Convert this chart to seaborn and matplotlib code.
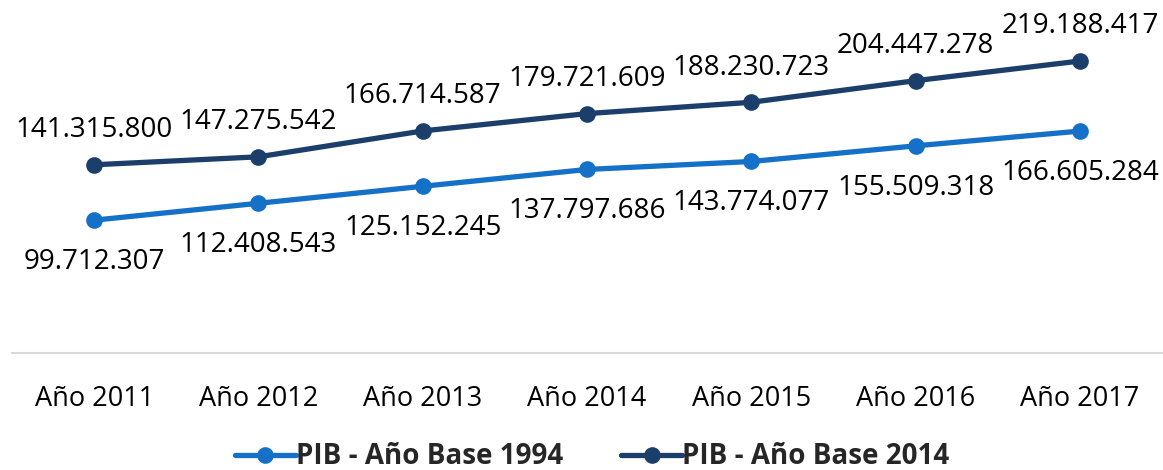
import matplotlib
matplotlib.use("Agg")
import matplotlib.pyplot as plt
import seaborn as sns
import pandas as pd

years = ["Año 2011", "Año 2012", "Año 2013", "Año 2014", "Año 2015", "Año 2016", "Año 2017"]
pib_1994 = [99712307, 112408543, 125152245, 137797686, 143774077, 155509318, 166605284]
pib_2014 = [141315800, 147275542, 166714587, 179721609, 188230723, 204447278, 219188417]
series_names = ["PIB - Año Base 1994", "PIB - Año Base 2014"]
colors = ["#1570C8", "#1B3F6A"]

sns.set_theme(style="white")
plt.rcParams["font.family"] = ["Open Sans", "DejaVu Sans"]

df = pd.DataFrame({
    "year": years * 2,
    "value": pib_1994 + pib_2014,
    "serie": [series_names[0]] * len(years) + [series_names[1]] * len(years),
})

fig = plt.figure(figsize=(11.63, 4.70), dpi=100)
ax = fig.add_axes([12 / 1163, 117 / 470, 1150 / 1163, 333 / 470])

sns.lineplot(data=df, x="year", y="value", hue="serie", palette=colors,
             marker="o", markersize=12, markeredgewidth=0, linewidth=3.8,
             sort=False, ax=ax, legend=False)

def fmt(v):
    return f"{v:,}".replace(",", ".")

for i, v in enumerate(pib_1994):
    ax.annotate(fmt(v), (i, v), xytext=(0, -30), textcoords="offset points",
                ha="center", va="center", fontsize=20, color="#000000")
for i, v in enumerate(pib_2014):
    ax.annotate(fmt(v), (i, v), xytext=(0, 25), textcoords="offset points",
                ha="center", va="center", fontsize=20, color="#000000")

ax.set_xlim(-0.5, len(years) - 0.5)
ax.set_ylim(0, 250_000_000)
ax.set_xlabel("")
ax.set_ylabel("")
ax.set_yticks([])
ax.tick_params(axis="x", length=0, pad=23, labelsize=19.5, colors="#000000")
for s in ["top", "right", "left"]:
    ax.spines[s].set_visible(False)
ax.spines["bottom"].set_color("#D9D9D9")
ax.spines["bottom"].set_linewidth(1.5)

from matplotlib.lines import Line2D
handles = [Line2D([0], [0], color=c, lw=3.8, marker="o", markersize=12, markeredgewidth=0) for c in colors]
fig.legend(handles, series_names, loc="center", bbox_to_anchor=(592 / 1163, 1 - 457 / 470),
           ncol=2, frameon=False, handlelength=2.2, handletextpad=0.0, columnspacing=2.1,
           borderpad=0.1, prop={"weight": "bold", "size": 20})

fig.savefig("out.png", dpi=100)
